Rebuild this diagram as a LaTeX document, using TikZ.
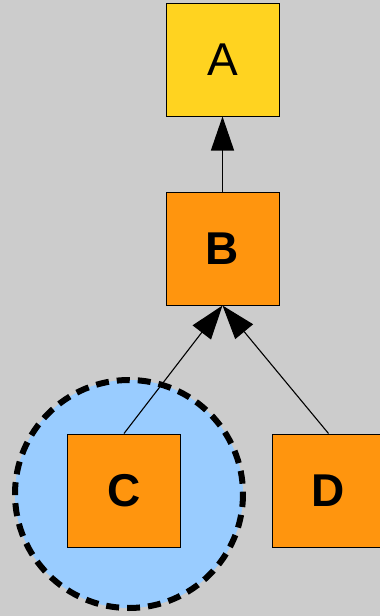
\documentclass[tikz,border=0pt]{standalone}
\usepackage{fontspec}
\setmainfont{Liberation Sans}
\usetikzlibrary{arrows.meta}
\definecolor{bg}{HTML}{CCCCCC}
\definecolor{ayellow}{HTML}{FFD320}
\definecolor{borange}{HTML}{FF950E}
\definecolor{lblue}{HTML}{99CCFF}
\tikzset{
  box/.style={draw=black, line width=1pt, minimum width=113pt, minimum height=113pt, inner sep=0pt, font=\fontsize{46}{46}\selectfont},
  boldbox/.style={box, font=\fontsize{46}{46}\selectfont\bfseries},
  edge/.style={line width=1.1pt, -{Triangle[length=34pt,width=23pt]}}
}
\begin{document}
\begin{tikzpicture}[x=1pt,y=-1pt]
\clip (0,0) rectangle (380,616);
\fill[bg] (0,0) rectangle (380,616);
\filldraw[fill=lblue, draw=black, line width=6pt, dash pattern=on 13pt off 8pt] (129,494) circle[radius=114];
\node[box, fill=ayellow] (A) at (222.5,59.5) {A};
\node[boldbox, fill=borange] (B) at (222.5,248.5) {B};
\node[boldbox, fill=borange] (C) at (124,490.5) {C};
\node[boldbox, fill=borange] (D) at (328.5,490.5) {D};
\draw[edge] (B.north) -- (A.south);
\draw[edge] (C.north) -- (B.south);
\draw[edge] (D.north) -- (B.south);
\end{tikzpicture}
\end{document}
